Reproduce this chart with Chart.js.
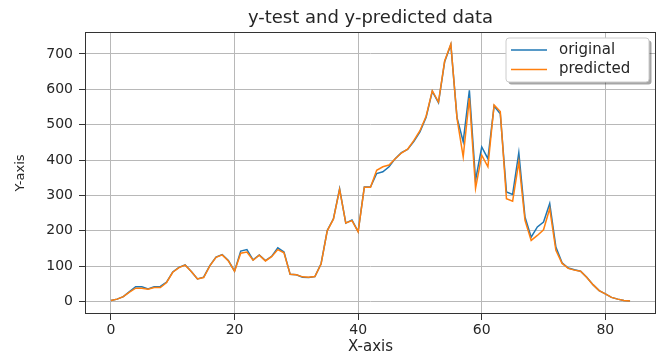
<!DOCTYPE html>
<html>
<head>
<meta charset="utf-8">
<script src="https://cdn.jsdelivr.net/npm/chart.js@4/dist/chart.umd.min.js"></script>
<style>
  html, body { margin: 0; padding: 0; background: #ffffff; }
  #wrap { width: 661px; height: 353px; }
</style>
</head>
<body>
<div id="wrap"><canvas id="chart" width="661" height="353"></canvas></div>
<script>
// Test targets and model predictions, one value per sample
const original = [
  3, 7, 14, 28, 42, 42, 36, 42, 43, 55,
  84, 97, 104, 85, 64, 69, 102, 126, 133, 116,
  86, 143, 147, 118, 132, 116, 128, 152, 140, 77,
  76, 69, 68, 71, 107, 201, 234, 319, 222, 231,
  198, 324, 324, 362, 367, 381, 404, 421, 430, 452,
  480, 521, 594, 562, 678, 726, 520, 452, 597, 343,
  437, 404, 553, 531, 310, 303, 421, 239, 182, 211,
  225, 277, 154, 110, 95, 90, 86, 69, 48, 31,
  22, 12, 7, 3, 2
];
const predicted = [
  3, 7, 14, 27, 38, 38, 35, 40, 40, 54,
  83, 96, 103, 85, 64, 68, 101, 125, 132, 115,
  86, 137, 140, 117, 131, 115, 127, 147, 138, 77,
  76, 70, 69, 71, 106, 200, 233, 317, 222, 229,
  197, 323, 323, 371, 381, 386, 404, 420, 431, 455,
  483, 524, 596, 564, 680, 728, 518, 409, 575, 320,
  414, 381, 556, 537, 291, 284, 395, 230, 173, 187,
  203, 263, 145, 108, 94, 89, 86, 68, 48, 31,
  22, 12, 7, 3, 2
];
const seriesNames = ['original', 'predicted'];
const seriesColors = ['#1f77b4', '#ff7f0e'];
const xTickValues = [0, 20, 40, 60, 80];
const yTickValues = [0, 100, 200, 300, 400, 500, 600, 700];
const chartTitle = 'y-test and y-predicted data';
const xAxisTitle = 'X-axis';
const yAxisTitle = 'Y-axis';

const FONT = "'DejaVu Sans', 'Liberation Sans', sans-serif";
const INK = '#262626';

const toPoints = arr => arr.map((v, i) => ({ x: i, y: v }));

// Full box around the plot area
const framePlugin = {
  id: 'frame',
  afterDatasetsDraw(chart) {
    const { ctx, chartArea: a } = chart;
    ctx.save();
    ctx.strokeStyle = '#333333';
    ctx.lineWidth = 1;
    ctx.strokeRect(Math.round(a.left) + 0.5, Math.round(a.top) + 0.5,
                   Math.round(a.right - a.left) - 1, Math.round(a.bottom - a.top) - 1);
    ctx.restore();
  }
};

// Legend box in the upper right corner of the plot, with a drop shadow
const legendPlugin = {
  id: 'cornerLegend',
  afterDraw(chart) {
    const { ctx, chartArea: a } = chart;
    const w = 143, h = 44;
    const x = a.right - 7 - w, y = a.top + 6;
    const rr = (px, py, pw, ph, r) => {
      ctx.beginPath();
      ctx.moveTo(px + r, py);
      ctx.lineTo(px + pw - r, py);
      ctx.quadraticCurveTo(px + pw, py, px + pw, py + r);
      ctx.lineTo(px + pw, py + ph - r);
      ctx.quadraticCurveTo(px + pw, py + ph, px + pw - r, py + ph);
      ctx.lineTo(px + r, py + ph);
      ctx.quadraticCurveTo(px, py + ph, px, py + ph - r);
      ctx.lineTo(px, py + r);
      ctx.quadraticCurveTo(px, py, px + r, py);
      ctx.closePath();
    };
    ctx.save();
    rr(x + 2.5, y + 2.5, w, h, 3);
    ctx.fillStyle = 'rgba(0,0,0,0.35)';
    ctx.fill();
    rr(x, y, w, h, 3);
    ctx.fillStyle = '#ffffff';
    ctx.fill();
    ctx.strokeStyle = '#cccccc';
    ctx.lineWidth = 1;
    ctx.stroke();
    ctx.font = '15px ' + FONT;
    ctx.textBaseline = 'middle';
    ctx.textAlign = 'left';
    chart.data.datasets.forEach((ds, i) => {
      const ly = y + 12 + i * 19.5;
      ctx.strokeStyle = ds.borderColor;
      ctx.lineWidth = 1.5;
      ctx.beginPath();
      ctx.moveTo(x + 5, ly);
      ctx.lineTo(x + 41, ly);
      ctx.stroke();
      ctx.fillStyle = INK;
      ctx.fillText(ds.label, x + 53, ly);
    });
    ctx.restore();
  }
};

const axisCommon = (tickValues) => ({
  type: 'linear',
  afterBuildTicks: s => { s.ticks = tickValues.map(v => ({ value: v })); },
  ticks: { color: INK, font: { family: FONT, size: 14 } },
  grid: {
    color: '#b8b8b8', lineWidth: 1,
    drawTicks: true, tickLength: 6, tickColor: '#333333', tickWidth: 1
  },
  border: { display: false }
});

const xScale = axisCommon(xTickValues);
xScale.min = -4.2;
xScale.max = 88.2;
xScale.ticks.padding = 2;
xScale.title = { display: true, text: xAxisTitle, color: INK,
                 font: { family: FONT, size: 15, lineHeight: 0.8 }, padding: 0 };
xScale.afterFit = s => { s.height = 39; };

const yScale = axisCommon(yTickValues);
yScale.min = -35;
yScale.max = 762;
yScale.ticks.padding = 6;
yScale.title = { display: true, text: yAxisTitle, color: INK,
                 font: { family: FONT, size: 13 }, padding: { top: 13, bottom: 0 } };
yScale.afterFit = s => { s.width = 85; };

new Chart(document.getElementById('chart'), {
  type: 'line',
  data: {
    datasets: [
      { label: seriesNames[0], data: toPoints(original), borderColor: seriesColors[0],
        borderWidth: 1.5, pointRadius: 0, tension: 0, fill: false, order: 1 },
      { label: seriesNames[1], data: toPoints(predicted), borderColor: seriesColors[1],
        borderWidth: 1.5, pointRadius: 0, tension: 0, fill: false, order: 0 }
    ]
  },
  options: {
    responsive: false,
    animation: false,
    devicePixelRatio: 1,
    layout: { padding: { left: 0, right: 5, top: 0, bottom: 0 } },
    plugins: {
      legend: { display: false },
      tooltip: { enabled: false },
      title: {
        display: true, text: chartTitle, color: INK,
        font: { family: FONT, size: 18, weight: 'normal', lineHeight: 1.2 },
        padding: { top: 8, bottom: 2.4 }, fullSize: false
      }
    },
    scales: { x: xScale, y: yScale }
  },
  plugins: [framePlugin, legendPlugin]
});
</script>
</body>
</html>
